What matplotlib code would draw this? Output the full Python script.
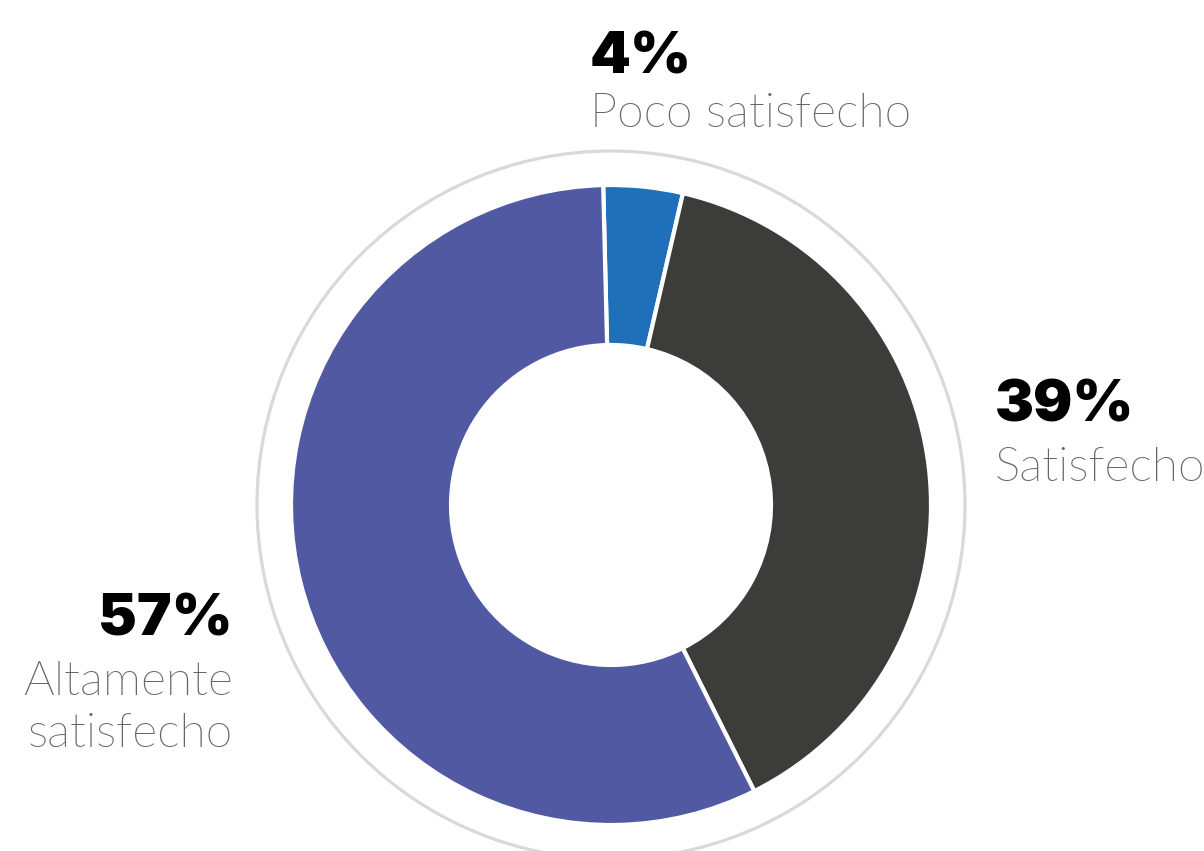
import matplotlib
matplotlib.use("Agg")
import matplotlib.pyplot as plt
from matplotlib.patches import Circle

# Survey satisfaction shares (percent)
categories = ["Poco satisfecho", "Satisfecho", "Altamente", "satisfecho"]
values = [4, 39, 57]
colors = ["#1f70b8", "#3c3c3b", "#5059a2"]

W, H = 1204, 851
fig = plt.figure(figsize=(W / 100, H / 100), dpi=100)
ax = fig.add_axes([0, 0, 1, 1])

cx, cy = 611, H - 505
r_out, r_in = 320, 160

ax.pie(values, colors=colors, radius=r_out, center=(cx, cy),
       startangle=91.4, counterclock=False,
       wedgeprops=dict(width=r_out - r_in, edgecolor="white", linewidth=3))

# thin outer guide ring
ax.add_patch(Circle((cx, cy), 354, fill=False, edgecolor="#d9d9d9", linewidth=2.3))

ax.set_xlim(0, W)
ax.set_ylim(0, H)
ax.set_aspect("equal")
ax.axis("off")

pct_font = dict(family="Inter", weight=900, size=42, color="black")
lab_font = dict(family="Lato", weight=275, size=34.5, color="#666666")

labels_pct = [f"{v}%" for v in values]

# Poco satisfecho (top)
ax.text(590, H - 74, labels_pct[0], ha="left", va="baseline", **pct_font)
ax.text(590, H - 127, categories[0], ha="left", va="baseline", **lab_font)

# Satisfecho (right)
ax.text(995, H - 421, labels_pct[1], ha="left", va="baseline", **pct_font)
ax.text(995, H - 481, categories[1], ha="left", va="baseline", **lab_font)

# Altamente satisfecho (left)
ax.text(233, H - 636, labels_pct[2], ha="right", va="baseline", **pct_font)
ax.text(233, H - 695, categories[2], ha="right", va="baseline", **lab_font)
ax.text(233, H - 747, categories[3], ha="right", va="baseline", **lab_font)

fig.savefig("out.png", dpi=100)
